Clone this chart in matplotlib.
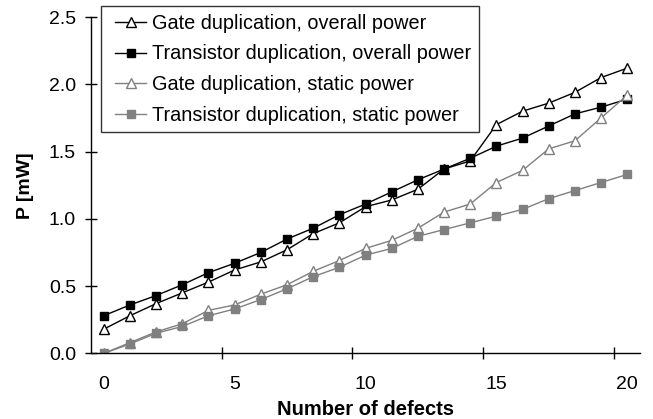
import matplotlib
matplotlib.use("Agg")
import matplotlib.pyplot as plt
from matplotlib.lines import Line2D
from matplotlib.legend_handler import HandlerLine2D
import numpy as np

plt.rcParams['font.family'] = ['Liberation Sans', 'DejaVu Sans']

defects = list(range(21))
gate_overall = [0.18, 0.28, 0.37, 0.45, 0.53, 0.62, 0.68, 0.77, 0.89, 0.97, 1.09,
                1.14, 1.22, 1.37, 1.43, 1.70, 1.80, 1.86, 1.94, 2.05, 2.12]
trans_overall = [0.28, 0.36, 0.43, 0.51, 0.60, 0.67, 0.75, 0.85, 0.93, 1.03, 1.11,
                 1.20, 1.29, 1.37, 1.45, 1.54, 1.60, 1.69, 1.78, 1.83, 1.89]
gate_static = [0.00, 0.08, 0.16, 0.22, 0.32, 0.36, 0.44, 0.51, 0.61, 0.69, 0.78,
               0.84, 0.93, 1.05, 1.11, 1.27, 1.36, 1.52, 1.58, 1.75, 1.92]
trans_static = [0.00, 0.07, 0.15, 0.20, 0.28, 0.33, 0.40, 0.48, 0.57, 0.64, 0.73,
                0.78, 0.87, 0.92, 0.97, 1.02, 1.07, 1.15, 1.21, 1.27, 1.33]
labels = ["Gate duplication, overall power", "Transistor duplication, overall power",
          "Gate duplication, static power", "Transistor duplication, static power"]
xtick_labels = ["0", "5", "10", "15", "20"]

fig = plt.figure(figsize=(6.53, 4.19), dpi=100)
ax = fig.add_axes([0.1389, 0.1566, 0.8417, 0.8028])

gray = '#808080'
ax.plot(defects, gate_overall, color='black', lw=1, marker='^', ms=7.5,
        mfc='white', mec='black', mew=1, label=labels[0])
ax.plot(defects, trans_overall, color='black', lw=1, marker='s', ms=6.3,
        mfc='black', mec='black', label=labels[1])
ax.plot(defects, gate_static, color=gray, lw=1, marker='^', ms=7.5,
        mfc='white', mec=gray, mew=1, label=labels[2])
ax.plot(defects, trans_static, color=gray, lw=1, marker='s', ms=6.3,
        mfc=gray, mec=gray, label=labels[3])

ax.set_xlim(-0.5, 20.5)
ax.set_ylim(0, 2.5)
ax.set_yticks(np.arange(0, 2.51, 0.5))
ax.set_yticklabels([f"{v:.1f}" for v in np.arange(0, 2.51, 0.5)])
ax.set_xticks([4.5, 9.5, 14.5, 19.5])
ax.set_xticklabels([])
ax.set_xticks([0, 5, 10, 15, 20], minor=True)
ax.set_xticklabels(xtick_labels, minor=True)
ax.tick_params(axis='x', which='major', direction='inout', length=9, width=1)
ax.tick_params(axis='x', which='minor', length=0, labelsize=14, pad=16)
ax.tick_params(axis='y', direction='inout', length=9, width=1, labelsize=14, pad=6)

for s in ['top', 'right']:
    ax.spines[s].set_visible(False)
for s in ['left', 'bottom']:
    ax.spines[s].set_linewidth(1)

ax.set_xlabel("Number of defects", fontsize=14.5, fontweight='bold', labelpad=5)
ax.set_ylabel("P [mW]", fontsize=14, fontweight='bold', labelpad=11)

leg = fig.legend(loc='upper left', bbox_to_anchor=(100.7 / 653, 1 - 6 / 419), fontsize=14.3,
                 frameon=True, fancybox=False, edgecolor='black', handlelength=1.9,
                 handletextpad=0.3, borderpad=0.4, labelspacing=0.58, borderaxespad=0,
                 handler_map={Line2D: HandlerLine2D(xpad=0.32)})
leg.get_frame().set_linewidth(1)

fig.savefig("out.png", dpi=100)
